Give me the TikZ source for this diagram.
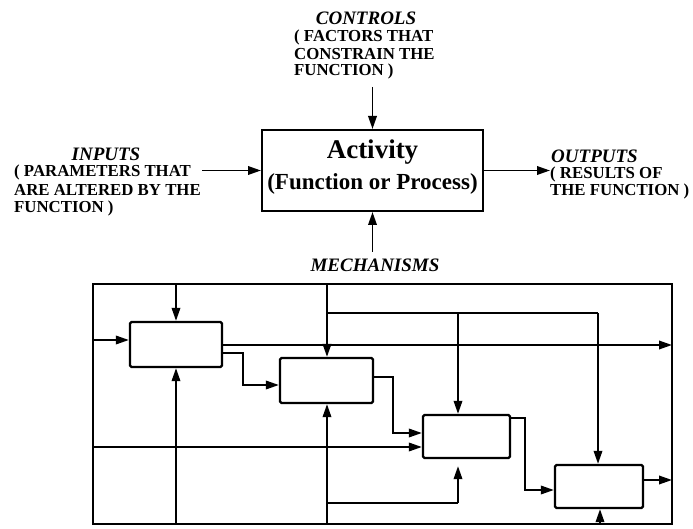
\documentclass[tikz,border=0pt]{standalone}
\usepackage{fontspec}
\setmainfont{Liberation Serif}
\usetikzlibrary{arrows.meta,calc}
\begin{document}
\begin{tikzpicture}[x=1pt,y=-1pt,
  arr/.style={-{Triangle[length=13pt,width=8.5pt]}, line width=1.9pt},
  ln/.style={line width=1.9pt},
  blk/.style={draw, line width=2.3pt, rounded corners=1.5pt, inner sep=0pt},
  head/.style={font=\fontsize{19}{19}\selectfont\bfseries\itshape, inner sep=0pt},
  body/.style={font=\fontsize{16.8}{16}\selectfont\bfseries, inner sep=0pt},
]
\useasboundingbox (0,0) rectangle (693,529);
% ---------- top: activity ----------
\node[draw, line width=2pt, minimum width=221pt, minimum height=81pt, inner sep=0pt] (act) at (372.5,170.5) {};
\node[font=\fontsize{27}{27}\selectfont\bfseries, inner sep=0pt] (actt) at (372.5,152) {Activity};
\node[font=\fontsize{23}{23}\selectfont\bfseries, inner sep=0pt] (fun) at (372.5,183.5) {(Function or Process)};
% controls
\node[head] (ctl) at (366,18) {CONTROLS};
\node[body, anchor=west] (c1) at (294,37) {( FACTORS THAT};
\node[body, anchor=west] (c2) at (294,54) {CONSTRAIN THE};
\node[body, anchor=west] (c3) at (294,71) {FUNCTION )};
\coordinate (ca) at (372.5,87);
\draw[arr] (ca) -- (act.north);
% inputs
\node[head] (inp) at (106,154) {INPUTS};
\node[body, anchor=west] (i1) at (14,172) {( PARAMETERS THAT};
\node[body, anchor=west] (i2) at (14,190) {ARE ALTERED BY THE};
\node[body, anchor=west] (i3) at (14,208) {FUNCTION )};
\coordinate (ia) at (202,170.5);
\draw[arr] (ia) -- (act.west);
% outputs
\node[head, anchor=west] (outp) at (551,156) {OUTPUTS};
\node[body, anchor=west] (o1) at (550,174) {( RESULTS OF};
\node[body, anchor=west] (o2) at (550,191) {THE FUNCTION )};
\coordinate (oa) at (550,170.5);
\draw[arr] (act.east) -- (oa);
% mechanisms
\node[head] (mech) at (375,265) {MECHANISMS};
\coordinate (ma) at (372.5,252);
\draw[arr] (ma) -- (act.south);
% ---------- bottom: decomposition ----------
\node[draw, line width=2pt, minimum width=579pt, minimum height=240pt, inner sep=0pt] (frame) at (382.5,404) {};
\node[blk, minimum width=92pt, minimum height=45pt] (b1) at (176,344.5) {};
\node[blk, minimum width=93pt, minimum height=45pt] (b2) at (326.5,380.5) {};
\node[blk, minimum width=87pt, minimum height=43pt] (b3) at (466.5,436.5) {};
\node[blk, minimum width=88pt, minimum height=43pt] (b4) at (599,486.5) {};
% box 1
\coordinate (in1) at (93,340);
\draw[arr] (in1) -- (in1 -| b1.west);
\coordinate (ct1) at (176,284);
\draw[arr] (ct1) -- (ct1 |- b1.north);
\coordinate (mc1) at (176,524);
\draw[arr] (mc1) -- (mc1 |- b1.south);
\coordinate (f1) at (672,345);
\draw[arr] (b1.east |- f1) -- (f1);
\coordinate (k1) at (243,385);
\draw[arr] ($(b1.east)+(0,8.5)$) -| (k1) -- (k1 -| b2.west);
% box 2
\coordinate (ct2) at (327,284);
\draw[arr] (ct2) -- (ct2 |- b2.north);
\coordinate (br) at (327,313);
\coordinate (br3) at (458,313);
\coordinate (br4) at (598,313);
\draw[ln] (br) -- (br4);
\draw[arr] (br3) -- (br3 |- b3.north);
\draw[arr] (br4) -- (br4 |- b4.north);
\coordinate (mc2) at (327,524);
\draw[arr] (mc2) -- (mc2 |- b2.south);
\coordinate (mb) at (327,503);
\coordinate (mc3) at (458,503);
\draw[ln] (mb) -- (mc3);
\draw[arr, shorten >=7pt] (mc3) -- (mc3 |- b3.south);
\coordinate (k2) at (393,433);
\draw[arr] ($(b2.east)+(0,-3.5)$) -| (k2) -- (k2 -| b3.west);
% box 3
\coordinate (in3) at (93,447);
\draw[arr] (in3) -- (in3 -| b3.west);
\coordinate (k3) at (525,490);
\draw[arr] ($(b3.north east)+(0,4)$) -| (k3) -- (k3 -| b4.west);
% box 4
\coordinate (f4) at (672,480);
\draw[arr] (b4.east |- f4) -- (f4);
\coordinate (mc4) at (600,524);
\draw[arr] (mc4) -- (mc4 |- b4.south);
\end{tikzpicture}
\end{document}
